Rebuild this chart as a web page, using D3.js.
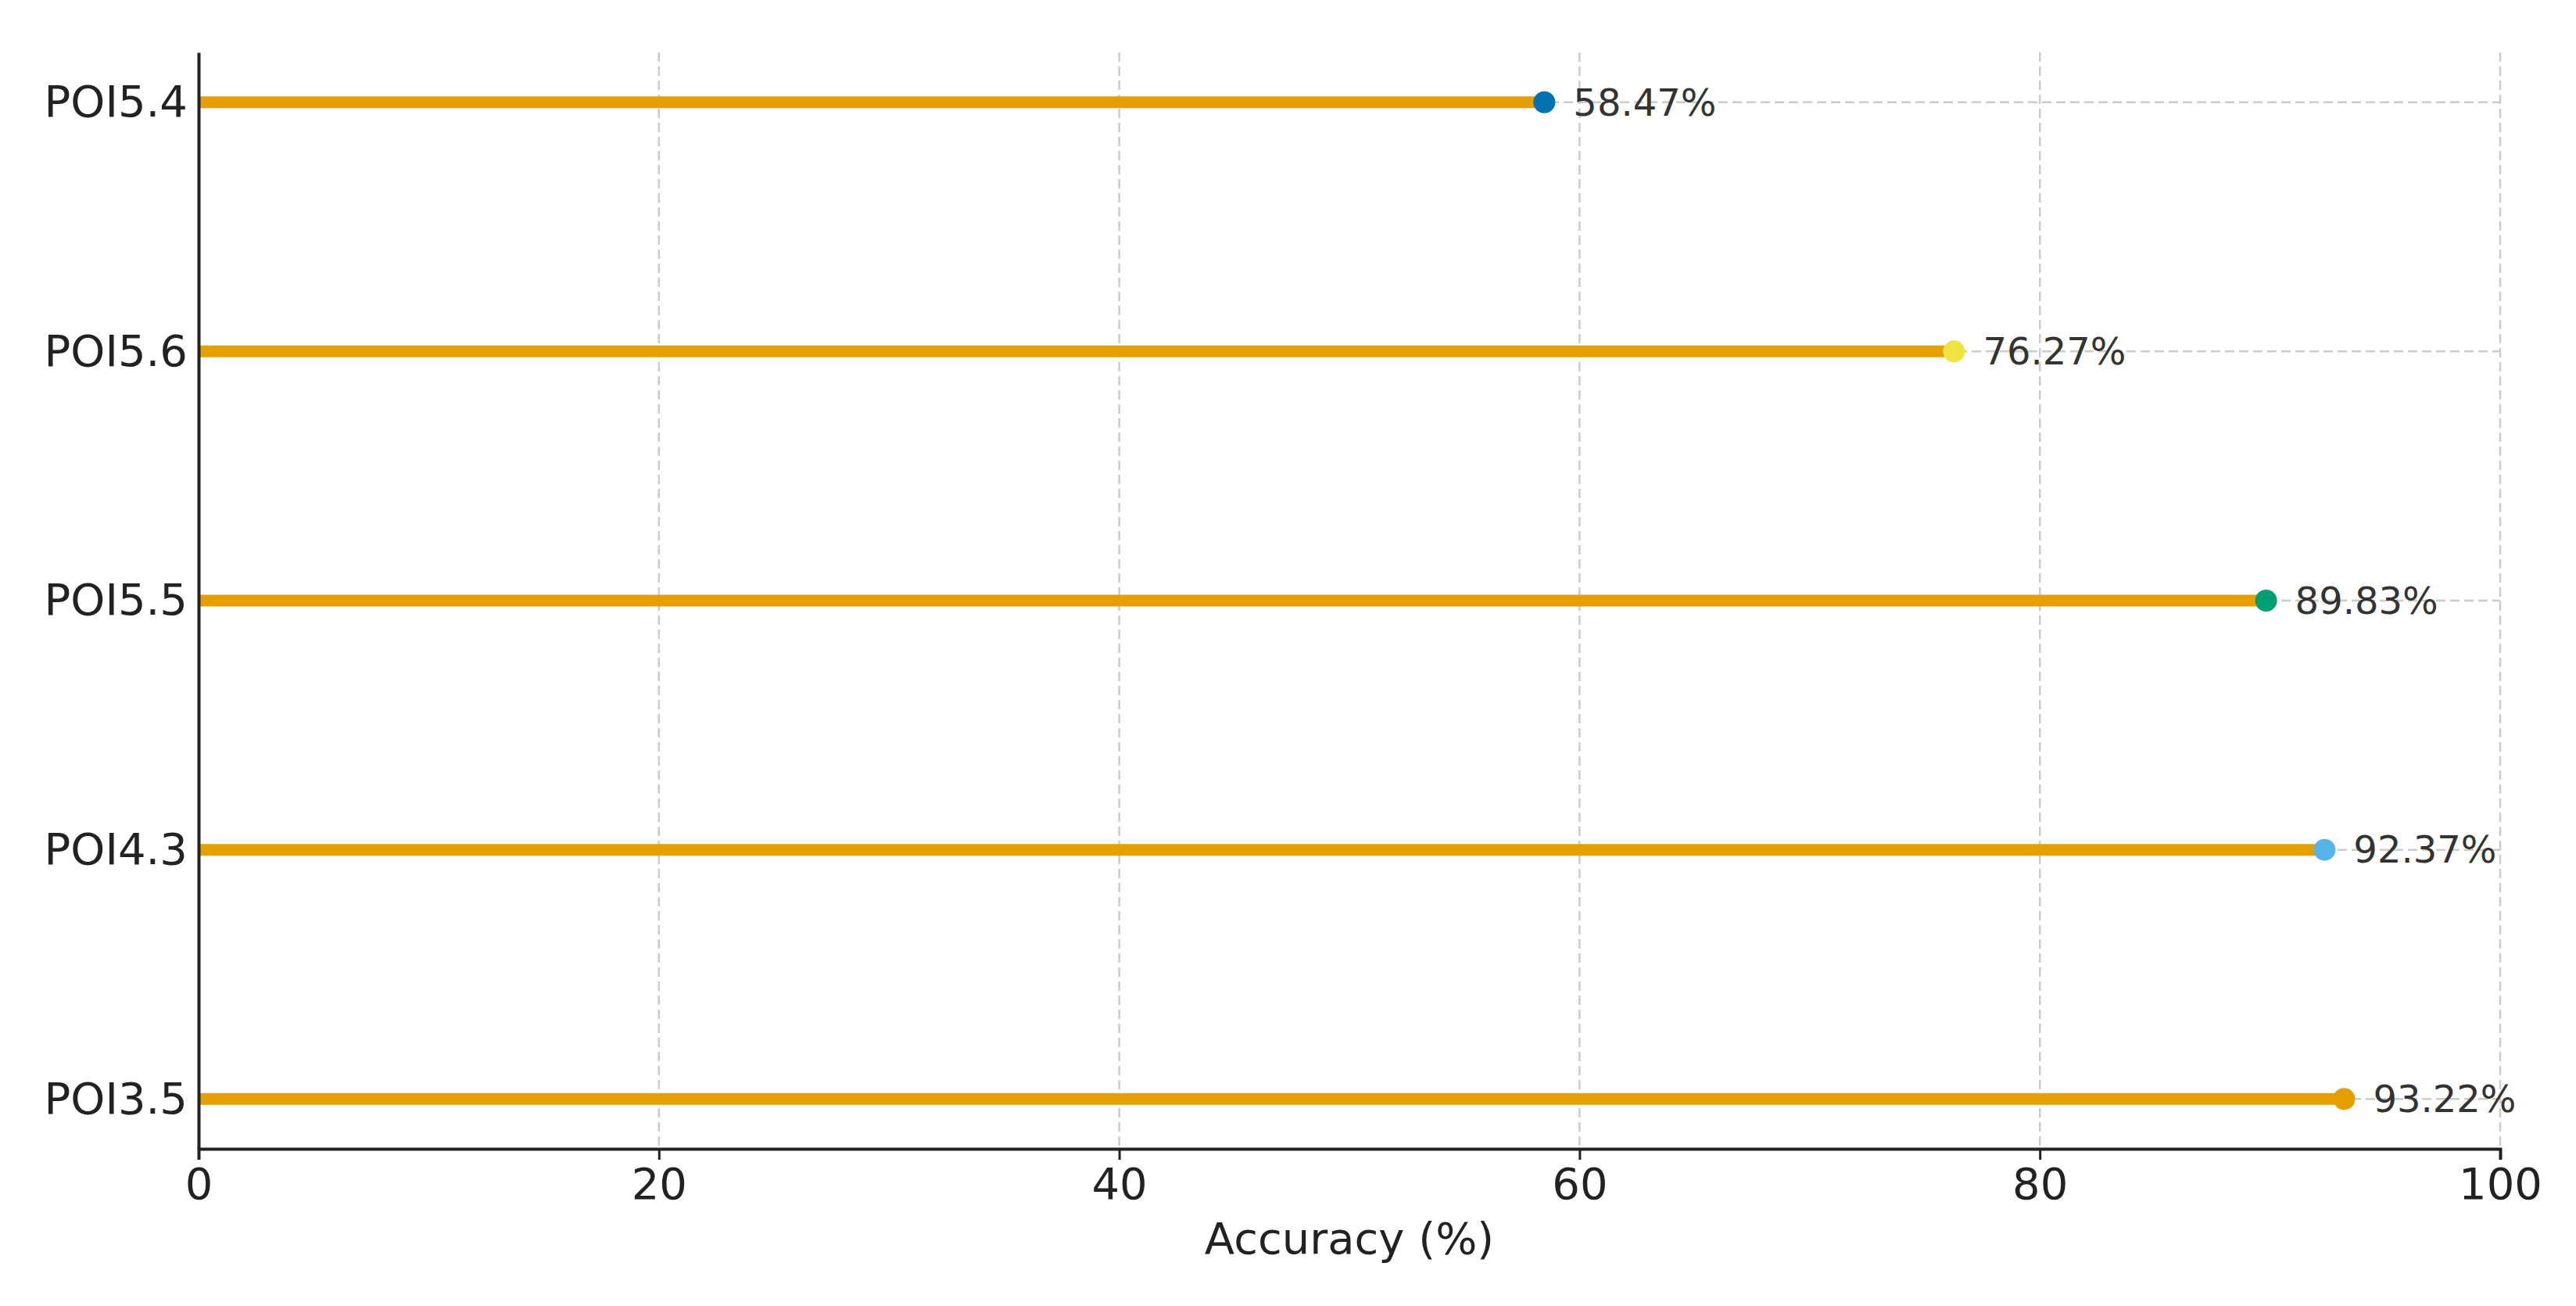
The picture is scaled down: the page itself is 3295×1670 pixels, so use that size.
<!DOCTYPE html>
<html>
<head>
<meta charset="utf-8">
<script src="https://cdn.jsdelivr.net/npm/d3@7"></script>
<style>
  body { margin: 0; background: #fff; }
  text { font-family: "DejaVu Sans", sans-serif; }
</style>
</head>
<body>
<svg id="chart" width="3295" height="1670"></svg>
<script>
// data, top to bottom
var categories = ["POI5.4", "POI5.6", "POI5.5", "POI4.3", "POI3.5"];
var accuracy = [58.47, 76.27, 89.83, 92.37, 93.22];
var dotColors = ["#0072B2", "#F0E442", "#009E73", "#56B4E9", "#E69F00"];
var xTicks = [0, 20, 40, 60, 80, 100];

var svg = d3.select("#chart");
var margin = { left: 254, right: 97, top: 67, bottom: 201 };
var W = 3295, H = 1670;

var x = d3.scaleLinear().domain([0, 100]).range([margin.left, W - margin.right]);
var y = d3.scalePoint().domain(categories).range([margin.top, H - margin.bottom]).padding(0.2);

// grid lines
svg.append("g").selectAll("line.vg")
    .data(xTicks.slice(1))
    .join("line")
    .attr("x1", d => x(d)).attr("x2", d => x(d))
    .attr("y1", margin.top).attr("y2", H - margin.bottom)
    .attr("stroke", "#cccccc").attr("stroke-width", 2.5).attr("stroke-dasharray", "12,6");

svg.append("g").selectAll("line.hg")
    .data(categories)
    .join("line")
    .attr("x1", x(0)).attr("x2", x(100))
    .attr("y1", d => y(d)).attr("y2", d => y(d))
    .attr("stroke", "#cccccc").attr("stroke-width", 2.5).attr("stroke-dasharray", "12,6");

// stems
svg.append("g").selectAll("line")
    .data(categories)
    .join("line")
    .attr("x1", x(0)).attr("x2", (d, i) => x(accuracy[i]))
    .attr("y1", d => y(d)).attr("y2", d => y(d))
    .attr("stroke", "#E69F00").attr("stroke-width", 15);

// dots
svg.append("g").selectAll("circle")
    .data(categories)
    .join("circle")
    .attr("cx", (d, i) => x(accuracy[i]))
    .attr("cy", d => y(d))
    .attr("r", 14)
    .attr("fill", (d, i) => dotColors[i]);

// value labels
svg.append("g").selectAll("text")
    .data(categories)
    .join("text")
    .attr("x", (d, i) => x(accuracy[i]) + 37)
    .attr("y", d => y(d))
    .attr("dy", "0.35em")
    .attr("font-size", 48)
    .attr("fill", "#333")
    .text((d, i) => accuracy[i].toFixed(2) + "%");

// axes
var xAxis = svg.append("g")
    .attr("transform", "translate(0," + (H - margin.bottom) + ")")
    .call(d3.axisBottom(x).tickValues(xTicks).tickSize(14).tickPadding(10));
var yAxis = svg.append("g")
    .attr("transform", "translate(" + margin.left + ",0)")
    .call(d3.axisLeft(y).tickSize(0).tickPadding(14));

[xAxis, yAxis].forEach(function (a) {
    a.select(".domain").attr("stroke", "#222").attr("stroke-width", 4);
    a.selectAll(".tick line").attr("stroke", "#222").attr("stroke-width", 3);
    a.selectAll(".tick text").attr("font-size", 56).attr("fill", "#222")
        .style("font-family", "DejaVu Sans, sans-serif");
});

svg.append("text")
    .attr("x", x(50)).attr("y", 1603)
    .attr("text-anchor", "middle")
    .attr("font-size", 56)
    .attr("fill", "#222")
    .text("Accuracy (%)");
</script>
</body>
</html>
